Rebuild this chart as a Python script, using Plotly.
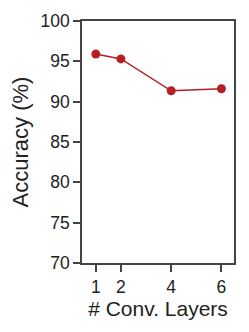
import plotly.graph_objects as go

layers = [1, 2, 4, 6]
accuracy = [95.9, 95.3, 91.35, 91.6]
y_ticks = [70, 75, 80, 85, 90, 95, 100]

fig = go.Figure()
fig.add_trace(go.Scatter(
    x=layers, y=accuracy, mode="lines+markers",
    line=dict(color="#b51f24", width=1.5),
    marker=dict(color="#b51f24", size=9),
    showlegend=False,
))

font = "Liberation Sans, Arial, sans-serif"
fig.update_layout(
    width=241, height=324,
    margin=dict(l=74, r=15, t=13, b=69),
    paper_bgcolor="white", plot_bgcolor="white",
    font=dict(family=font, color="#222222"),
)
fig.update_xaxes(
    range=[0.45, 6.5], tickvals=layers, ticktext=[str(v) for v in layers],
    showgrid=False, zeroline=False, automargin=False,
    showline=True, mirror=True, linecolor="#444444", linewidth=1.5,
    ticks="outside", ticklen=7, tickwidth=1.5, tickcolor="#444444",
    tickfont=dict(size=17.5, family=font, color="#222222"),
    title=dict(text="# Conv. Layers", font=dict(size=21, family=font, color="#222222"), standoff=3),
)
fig.update_yaxes(
    range=[70, 100], tickvals=y_ticks,
    showgrid=False, zeroline=False, automargin=False,
    showline=True, mirror=True, linecolor="#444444", linewidth=1.5,
    ticks="outside", ticklen=7, tickwidth=1.5, tickcolor="#444444",
    tickfont=dict(size=17.5, family=font, color="#222222"),
    title=dict(text="Accuracy (%)", font=dict(size=22, family=font, color="#222222"), standoff=6),
)
fig.write_html("out.html")
